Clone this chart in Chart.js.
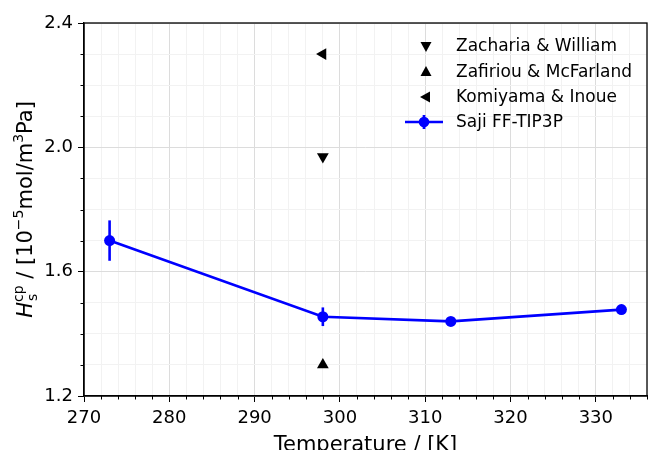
<!DOCTYPE html>
<html>
<head>
<meta charset="utf-8">
<script src="https://cdn.jsdelivr.net/npm/chart.js@4/dist/chart.umd.min.js"></script>
<style>
  html, body { margin: 0; padding: 0; background: #fff; overflow: hidden; }
  #wrap { width: 648px; height: 450px; position: relative; }
  canvas { display: block; }
</style>
</head>
<body>
<div id="wrap"><canvas id="henryChart"></canvas></div>
<script>
// data
const temps = [273, 298, 313, 333];
const sajiValues = [1.70, 1.455, 1.44, 1.478];
const sajiErrors = [0.065, 0.03, 0.01, 0.015];

const zachariaT = [298];
const zachariaValues = [1.97];
const zafiriouT = [298];
const zafiriouValues = [1.30];
const komiyamaT = [298];
const komiyamaValues = [2.30];

const xTickLabels = [270, 280, 290, 300, 310, 320, 330];
const yTickLabels = ['1.2', '1.6', '2.0', '2.4'];

const legendNames = ['Zacharia & William', 'Zafiriou & McFarland', 'Komiyama & Inoue', 'Saji FF-TIP3P'];

const FONT = "'DejaVu Sans', sans-serif";
const BLUE = '#0000ff';

function pts(xs, ys) {
  return xs.map((x, i) => ({ x: x, y: ys[i] }));
}

function isMajorX(v) { return xTickLabels.indexOf(Math.round(v)) >= 0; }
function isMajorY(v) { return yTickLabels.indexOf((Math.round(v * 10) / 10).toFixed(1)) >= 0; }

// error bars, frame, minor ticks, axis titles and legend
const extras = {
  id: 'extras',
  beforeDatasetsDraw(chart) {
    const ctx = chart.ctx;
    const xs = chart.scales.x, ys = chart.scales.y;
    ctx.save();
    ctx.strokeStyle = BLUE;
    ctx.lineWidth = 2.6;
    temps.forEach((t, i) => {
      const px = xs.getPixelForValue(t);
      ctx.beginPath();
      ctx.moveTo(px, ys.getPixelForValue(sajiValues[i] - sajiErrors[i]));
      ctx.lineTo(px, ys.getPixelForValue(sajiValues[i] + sajiErrors[i]));
      ctx.stroke();
    });
    ctx.restore();
  },
  afterDraw(chart) {
    const ctx = chart.ctx;
    const a = chart.chartArea;
    const xs = chart.scales.x, ys = chart.scales.y;
    ctx.save();

    // minor ticks
    ctx.strokeStyle = '#000';
    ctx.lineWidth = 1;
    xs.ticks.forEach(t => {
      if (isMajorX(t.value)) return;
      const px = Math.round(xs.getPixelForValue(t.value)) + 0.5;
      ctx.beginPath();
      ctx.moveTo(px, a.bottom);
      ctx.lineTo(px, a.bottom + 3.5);
      ctx.stroke();
    });
    ys.ticks.forEach(t => {
      if (isMajorY(t.value)) return;
      const py = Math.round(ys.getPixelForValue(t.value)) + 0.5;
      ctx.beginPath();
      ctx.moveTo(a.left - 3.5, py);
      ctx.lineTo(a.left, py);
      ctx.stroke();
    });

    // frame
    ctx.lineWidth = 1.3;
    ctx.strokeRect(a.left, a.top, a.right - a.left, a.bottom - a.top);

    // x title
    ctx.fillStyle = '#000';
    ctx.font = '21px ' + FONT;
    ctx.textAlign = 'center';
    ctx.textBaseline = 'alphabetic';
    ctx.fillText('Temperature / [K]', (a.left + a.right) / 2, 451);

    // y title with sub/superscripts
    const parts = [
      { t: 'H', f: 'italic 21px ' + FONT, dy: 0 },
      { t: 's', f: '14px ' + FONT, dy: 5, stack: true },
      { t: 'cp', f: '14px ' + FONT, dy: -9 },
      { t: ' / [10', f: '21px ' + FONT, dy: 0 },
      { t: '\u22125', f: '14px ' + FONT, dy: -9 },
      { t: 'mol/m', f: '21px ' + FONT, dy: 0 },
      { t: '3', f: '14px ' + FONT, dy: -9 },
      { t: 'Pa]', f: '21px ' + FONT, dy: 0 }
    ];
    let total = 0;
    let stackW = 0;
    parts.forEach(p => {
      ctx.font = p.f;
      p.w = ctx.measureText(p.t).width;
      if (p.stack) { stackW = p.w; p.adv = 0; }
      else if (stackW) { p.adv = Math.max(p.w, stackW); stackW = 0; }
      else p.adv = p.w;
      total += p.adv;
    });
    ctx.translate(25, (a.top + a.bottom) / 2);
    ctx.rotate(-Math.PI / 2);
    ctx.textAlign = 'left';
    let cx = -total / 2;
    parts.forEach(p => {
      ctx.font = p.f;
      ctx.fillText(p.t, cx + (p.t === 's' ? 1 : 0), 7 + p.dy);
      cx += p.adv;
    });
    ctx.setTransform(1, 0, 0, 1, 0, 0);

    // legend
    const rows = [46, 72, 97, 122];
    const mx = 426, tx = 456;
    ctx.font = '17px ' + FONT;
    ctx.textBaseline = 'middle';
    ctx.textAlign = 'left';
    ctx.fillStyle = '#000';
    const rot = [Math.PI, 0, -Math.PI / 2];
    rot.forEach((r, i) => {
      ctx.save();
      ctx.translate(mx, rows[i]);
      ctx.rotate(r);
      ctx.beginPath();
      ctx.moveTo(0, -6);
      ctx.lineTo(5.5, 4);
      ctx.lineTo(-5.5, 4);
      ctx.closePath();
      ctx.fill();
      ctx.restore();
    });
    const sy = rows[3];
    ctx.strokeStyle = BLUE;
    ctx.fillStyle = BLUE;
    ctx.lineWidth = 2.7;
    ctx.beginPath();
    ctx.moveTo(405, sy);
    ctx.lineTo(443, sy);
    ctx.moveTo(424, sy - 7);
    ctx.lineTo(424, sy + 7);
    ctx.stroke();
    ctx.beginPath();
    ctx.arc(424, sy, 5.3, 0, Math.PI * 2);
    ctx.fill();
    ctx.fillStyle = '#000';
    legendNames.forEach((n, i) => ctx.fillText(n, tx, rows[i] + 1));

    ctx.restore();
  }
};

new Chart(document.getElementById('henryChart'), {
  type: 'line',
  data: {
    datasets: [
      {
        label: legendNames[0],
        data: pts(zachariaT, zachariaValues),
        showLine: false,
        pointStyle: 'triangle',
        rotation: 180,
        pointRadius: 6.8,
        pointBackgroundColor: '#000',
        pointBorderWidth: 0,
        borderColor: '#000'
      },
      {
        label: legendNames[1],
        data: pts(zafiriouT, zafiriouValues),
        showLine: false,
        pointStyle: 'triangle',
        rotation: 0,
        pointRadius: 6.8,
        pointBackgroundColor: '#000',
        pointBorderWidth: 0,
        borderColor: '#000'
      },
      {
        label: legendNames[2],
        data: pts(komiyamaT, komiyamaValues),
        showLine: false,
        pointStyle: 'triangle',
        rotation: -90,
        pointRadius: 6.8,
        pointBackgroundColor: '#000',
        pointBorderWidth: 0,
        borderColor: '#000'
      },
      {
        label: legendNames[3],
        data: pts(temps, sajiValues),
        borderColor: BLUE,
        borderWidth: 2.7,
        pointRadius: 5.5,
        pointBackgroundColor: BLUE,
        pointBorderWidth: 0,
        tension: 0,
        fill: false
      }
    ]
  },
  options: {
    responsive: true,
    maintainAspectRatio: false,
    animation: false,
    layout: { autoPadding: false, padding: { left: 0, top: 23, right: 1, bottom: 0 } },
    plugins: {
      legend: { display: false },
      tooltip: { enabled: false }
    },
    scales: {
      x: {
        type: 'linear',
        min: 270,
        max: 336,
        afterFit: s => { s.height = 54; s.paddingLeft = 0; s.paddingRight = 0; },
        border: { display: true, color: '#000', width: 1.3 },
        grid: {
          color: c => isMajorX(c.tick.value) ? '#dcdcdc' : '#f2f2f2',
          lineWidth: 1,
          drawTicks: true,
          tickLength: 6,
          tickColor: c => isMajorX(c.tick.value) ? '#000' : 'rgba(0,0,0,0)'
        },
        ticks: {
          stepSize: 2,
          autoSkip: false,
          maxRotation: 0,
          padding: 6,
          color: '#000',
          font: { family: FONT, size: 18 },
          callback: v => isMajorX(v) ? String(Math.round(v)) : ''
        }
      },
      y: {
        type: 'linear',
        min: 1.2,
        max: 2.4,
        afterFit: s => { s.width = 84; s.paddingTop = 0; s.paddingBottom = 0; },
        border: { display: true, color: '#000', width: 1.3 },
        grid: {
          color: c => isMajorY(c.tick.value) ? '#dcdcdc' : '#f2f2f2',
          lineWidth: 1,
          drawTicks: true,
          tickLength: 6,
          tickColor: c => isMajorY(c.tick.value) ? '#000' : 'rgba(0,0,0,0)'
        },
        ticks: {
          stepSize: 0.1,
          autoSkip: false,
          padding: 5,
          color: '#000',
          font: { family: FONT, size: 18 },
          callback: v => isMajorY(v) ? (Math.round(v * 10) / 10).toFixed(1) : ''
        }
      }
    }
  },
  plugins: [extras]
});
</script>
</body>
</html>
